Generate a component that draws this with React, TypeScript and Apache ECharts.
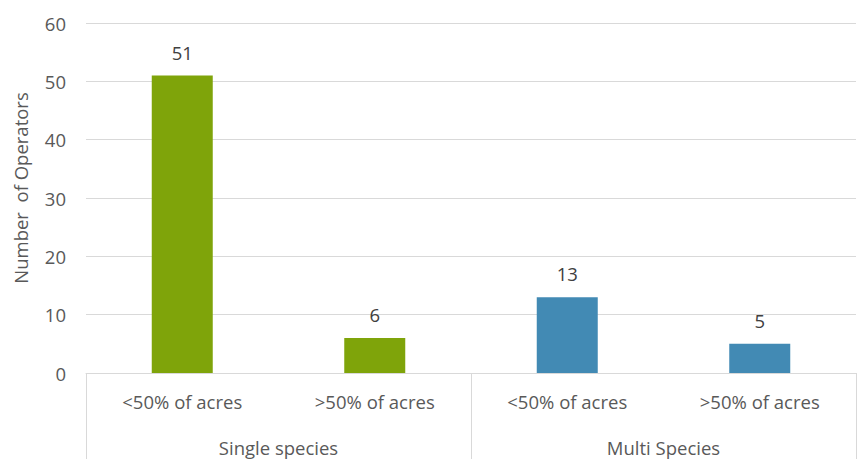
import React, { useEffect, useRef } from "react";
import * as echarts from "echarts";

// Operator counts split by share of acres, grouped by single vs multi species
const categories = ["<50% of acres", ">50% of acres", "<50% of acres", ">50% of acres"];
const groups = ["Single species", "Multi Species"];
const operatorCounts = [51, 6, 13, 5];
const barColors = ["#7fa40a", "#7fa40a", "#428ab4", "#428ab4"];
const yTicks = { min: 0, max: 60, interval: 10 };
const yTitle = "Number  of Operators";

const FONT = "'Open Sans', 'Noto Sans', sans-serif";
const TEXT = "#595959";
const RULE = "#d9d9d9";

export default function App() {
  const ref = useRef<HTMLDivElement>(null);

  useEffect(() => {
    if (!ref.current) return;
    const chart = echarts.init(ref.current, null, { renderer: "svg" });
    chart.setOption({
      animation: false,
      backgroundColor: "#ffffff",
      grid: { left: 86, right: 3, top: 23, bottom: 86, containLabel: false },
      xAxis: [
        {
          type: "category",
          data: categories,
          position: "bottom",
          axisLine: { show: true, lineStyle: { color: RULE, width: 1 } },
          axisTick: { show: false },
          axisLabel: {
            color: TEXT,
            fontFamily: FONT,
            fontSize: 18.5,
            margin: 19,
            interval: 0,
          },
        },
        {
          type: "category",
          data: groups,
          position: "bottom",
          offset: 0,
          axisLine: { show: false },
          axisTick: { show: true, length: 90, lineStyle: { color: RULE, width: 1 } },
          axisLabel: {
            color: TEXT,
            fontFamily: FONT,
            fontSize: 18.5,
            margin: 65,
            interval: 0,
          },
        },
      ],
      yAxis: {
        type: "value",
        min: yTicks.min,
        max: yTicks.max,
        interval: yTicks.interval,
        axisLine: { show: false },
        axisTick: { show: false },
        splitLine: { lineStyle: { color: RULE, width: 1 } },
        axisLabel: {
          color: TEXT,
          fontFamily: FONT,
          fontSize: 18.5,
          margin: 20,
        },
      },
      graphic: [
        {
          type: "text",
          x: 20,
          y: 188,
          rotation: Math.PI / 2,
          style: {
            text: yTitle,
            fill: TEXT,
            font: `18.5px ${FONT}`,
            textAlign: "center",
            textVerticalAlign: "middle",
          },
        },
      ],
      series: [
        {
          type: "bar",
          xAxisIndex: 0,
          yAxisIndex: 0,
          barWidth: 61,
          data: operatorCounts.map((v, i) => ({
            value: v,
            itemStyle: { color: barColors[i] },
          })),
          label: {
            show: true,
            position: "top",
            distance: 14,
            color: "#404040",
            fontFamily: FONT,
            fontSize: 18.5,
          },
        },
      ],
    });
    return () => chart.dispose();
  }, []);

  return (
    <div
      ref={ref}
      style={{ position: "fixed", left: 0, top: 0, width: 859, height: 459 }}
    />
  );
}
